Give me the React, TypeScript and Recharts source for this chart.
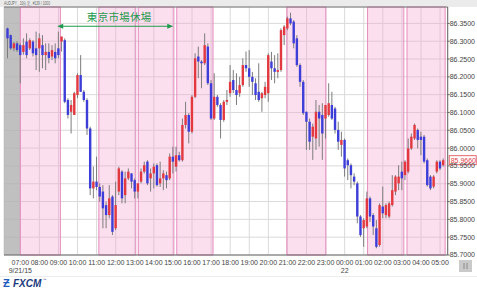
import {
  ComposedChart,
  Bar,
  XAxis,
  YAxis,
  CartesianGrid,
  ReferenceArea,
  ReferenceLine,
} from "recharts";

// AUDJPY 10-minute candles, 06:20 (9/21) .. 05:10 (9/22), one row per bar
const OPENS = [
  86.336, 86.317, 86.28, 86.294, 86.289, 86.27, 86.299, 86.28, 86.299, 86.28, 86.28, 86.289,
  86.261, 86.27, 86.257, 86.27, 86.28, 86.299, 86.303, 86.135, 86.102, 86.093, 86.149, 86.205,
  86.158, 86.135, 86.055, 85.887, 85.906, 85.891, 85.878, 85.84, 85.812, 85.864, 85.775, 85.878,
  85.934, 85.868, 85.915, 85.929, 85.91, 85.878, 85.906, 85.934, 85.962, 85.915, 85.929, 85.952,
  85.901, 85.915, 85.924, 85.915, 85.976, 85.948, 85.98, 85.966, 86.065, 86.093, 86.046, 86.144,
  86.257, 86.243, 86.238, 86.285, 86.182, 86.083, 86.144, 86.121, 86.079, 86.13, 86.154, 86.191,
  86.163, 86.154, 86.177, 86.233, 86.224, 86.2, 86.182, 86.158, 86.14, 86.149, 86.154, 86.243,
  86.224, 86.214, 86.219, 86.317, 86.336, 86.364, 86.355, 86.308, 86.233, 86.186, 86.102, 86.074,
  86.032, 86.027, 86.102, 86.093, 86.083, 86.093, 86.121, 86.111, 86.051, 86.009, 86.023, 85.966,
  85.952, 85.92, 85.901, 85.808, 85.775, 85.78, 85.859, 85.812, 85.775, 85.728, 85.836, 85.812,
  85.808, 85.84, 85.878, 85.901, 85.934, 85.924, 85.934, 85.999, 86.027, 86.051, 86.032, 86.032,
  85.966, 85.92, 85.892, 85.934, 85.962, 85.952,
];
const HIGHS = [
  86.338, 86.319, 86.298, 86.3, 86.294, 86.308, 86.322, 86.308, 86.303, 86.327, 86.322, 86.317,
  86.294, 86.294, 86.289, 86.294, 86.327, 86.313, 86.308, 86.14, 86.135, 86.158, 86.21, 86.261,
  86.163, 86.14, 86.06, 85.948, 85.976, 85.901, 85.896, 85.85, 85.896, 85.868, 85.906, 85.948,
  85.938, 85.934, 85.943, 85.929, 85.915, 85.901, 85.943, 85.962, 85.966, 85.943, 85.957, 85.957,
  85.962, 85.938, 85.934, 85.985, 86.004, 86.004, 85.99, 86.083, 86.13, 86.098, 86.149, 86.266,
  86.285, 86.247, 86.322, 86.294, 86.191, 86.21, 86.149, 86.126, 86.135, 86.163, 86.233, 86.219,
  86.21, 86.2, 86.252, 86.271, 86.275, 86.214, 86.196, 86.238, 86.158, 86.186, 86.266, 86.27,
  86.261, 86.266, 86.336, 86.345, 86.369, 86.38, 86.359, 86.317, 86.238, 86.191, 86.102, 86.083,
  86.069, 86.135, 86.121, 86.126, 86.121, 86.182, 86.158, 86.116, 86.074, 86.046, 86.027, 85.971,
  85.957, 85.929, 85.906, 85.812, 85.803, 85.878, 85.864, 85.817, 85.798, 85.845, 85.892, 85.845,
  85.85, 85.924, 85.924, 85.952, 85.962, 85.966, 86.027, 86.041, 86.069, 86.055, 86.046, 86.037,
  85.971, 85.924, 85.924, 85.966, 85.966, 85.971,
];
const LOWS = [
  86.252, 86.275, 86.272, 86.27, 86.182, 86.262, 86.252, 86.275, 86.257, 86.219, 86.214, 86.224,
  86.219, 86.238, 86.247, 86.238, 86.252, 86.271, 86.126, 86.083, 86.041, 86.093, 86.14, 86.158,
  86.13, 86.037, 85.868, 85.859, 85.882, 85.85, 85.775, 85.775, 85.803, 85.756, 85.77, 85.868,
  85.845, 85.845, 85.91, 85.887, 85.859, 85.859, 85.901, 85.929, 85.896, 85.878, 85.887, 85.892,
  85.891, 85.882, 85.887, 85.91, 85.929, 85.934, 85.962, 85.962, 86.055, 86.013, 86.041, 86.14,
  86.196, 86.168, 86.233, 86.177, 86.079, 86.079, 86.116, 86.027, 86.074, 86.121, 86.144, 86.154,
  86.121, 86.144, 86.172, 86.214, 86.172, 86.149, 86.135, 86.13, 86.102, 86.14, 86.13, 86.191,
  86.182, 86.196, 86.214, 86.289, 86.331, 86.345, 86.28, 86.228, 86.172, 86.093, 85.995, 85.995,
  85.967, 85.995, 86.004, 85.967, 86.027, 86.088, 86.079, 86.041, 85.995, 85.976, 85.92, 85.91,
  85.887, 85.896, 85.789, 85.751, 85.723, 85.775, 85.793, 85.756, 85.719, 85.723, 85.803, 85.803,
  85.803, 85.836, 85.868, 85.882, 85.882, 85.91, 85.929, 85.995, 86.023, 85.999, 85.98, 85.957,
  85.892, 85.882, 85.887, 85.929, 85.938, 85.948,
];
const CLOSES = [
  86.308, 86.28, 86.294, 86.275, 86.261, 86.289, 86.261, 86.303, 86.266, 86.261, 86.308, 86.261,
  86.27, 86.253, 86.275, 86.252, 86.261, 86.313, 86.13, 86.093, 86.121, 86.154, 86.205, 86.158,
  86.135, 86.055, 85.887, 85.906, 85.891, 85.864, 85.831, 85.812, 85.859, 85.765, 85.84, 85.943,
  85.859, 85.915, 85.934, 85.906, 85.878, 85.901, 85.934, 85.952, 85.901, 85.929, 85.948, 85.896,
  85.915, 85.929, 85.91, 85.976, 85.962, 85.98, 85.966, 86.065, 86.093, 86.046, 86.144, 86.252,
  86.243, 86.238, 86.289, 86.182, 86.083, 86.144, 86.121, 86.079, 86.13, 86.135, 86.186, 86.163,
  86.149, 86.177, 86.233, 86.224, 86.2, 86.186, 86.149, 86.135, 86.154, 86.172, 86.261, 86.224,
  86.214, 86.219, 86.331, 86.341, 86.364, 86.35, 86.294, 86.233, 86.186, 86.098, 86.074, 86.018,
  86.06, 86.102, 86.083, 86.041, 86.121, 86.126, 86.083, 86.051, 86.018, 86.023, 85.943, 85.952,
  85.924, 85.906, 85.808, 85.756, 85.798, 85.859, 85.808, 85.78, 85.723, 85.84, 85.817, 85.84,
  85.845, 85.882, 85.92, 85.92, 85.915, 85.962, 85.999, 86.032, 86.065, 86.023, 86.023, 85.962,
  85.896, 85.887, 85.92, 85.962, 85.943, 85.966,
];

// bar index 4 = 07:00, six bars per hour
const HOUR_LABELS = [
  "07:00", "08:00", "09:00", "10:00", "11:00", "12:00", "13:00", "14:00", "15:00", "16:00",
  "17:00", "18:00", "19:00", "20:00", "21:00", "22:00", "23:00", "00:00", "01:00", "02:00",
  "03:00", "04:00", "05:00",
];
const DATE_LABELS: Record<string, string> = { "07:00": "9/21/15", "00:00": "22" };
const Y_TICKS = [
  85.7, 85.75, 85.8, 85.85, 85.9, 85.95, 86.0, 86.05, 86.1, 86.15, 86.2, 86.25, 86.3, 86.35,
];
const X_DOMAIN = [-1.13, 138.4];
const Y_DOMAIN = [85.7, 86.396];

// shaded spans, in bar units
const PRE_OPEN = [-1.13, 4];
const SESSIONS = [
  [4, 16.6],
  [28.7, 40.3],
  [41.1, 52.3],
  [53.2, 64.6],
  [87.8, 100.1],
  [113.2, 124.6],
  [125.6, 137.6],
];
const ARROW_FROM = 15.6;
const ARROW_TO = 52.1;
const ARROW_LEVEL = 86.342;
const LAST_PRICE = 85.966;

const UP = "#e2383f";
const DOWN = "#3d3dd8";
const WICK = "#7c7c7c";
const GREEN = "#1f9a4e";
const FONT = "'Liberation Sans', Arial, sans-serif";

const HOUR_TICKS = HOUR_LABELS.map((_, k) => 4 + 6 * k);

const rows = OPENS.map((open, i) => ({
  i,
  open,
  high: HIGHS[i],
  low: LOWS[i],
  close: CLOSES[i],
}));

function Candle(props: any) {
  const { x, y, width, height, payload } = props;
  if (x == null || y == null) return null;
  const { open, close, high, low } = payload;
  const top = Math.min(y, y + height);
  const h = Math.abs(height);
  const k = high === low ? 0 : h / (high - low);
  const py = (v: number) => top + (high - v) * k;
  const cx = x + width / 2;
  const bodyTop = py(Math.max(open, close));
  const bodyH = Math.max(1, Math.abs(py(open) - py(close)));
  return (
    <g>
      <line x1={cx} x2={cx} y1={top} y2={top + h} stroke={WICK} strokeWidth={1} />
      <rect x={cx - 1.2} y={bodyTop} width={2.4} height={bodyH} fill={close >= open ? UP : DOWN} />
    </g>
  );
}

function HourTick(props: any) {
  const { x, y, payload } = props;
  const label = HOUR_LABELS[HOUR_TICKS.indexOf(payload.value)] ?? "";
  const date = DATE_LABELS[label];
  return (
    <g fontFamily={FONT} fontSize={7} fill="#444">
      <text x={x} y={y + 9.5} textAnchor="middle">
        {label}
      </text>
      {date && (
        <text x={x} y={y + 18.3} textAnchor="middle">
          {date}
        </text>
      )}
    </g>
  );
}

function TokyoArrow(p: any) {
  const left = Math.min(p.x1, p.x2);
  const right = Math.max(p.x1, p.x2);
  const y = p.y1;
  return (
    <g>
      <line x1={left + 4} x2={right - 4} y1={y} y2={y} stroke={GREEN} strokeWidth={1.2} />
      <polygon points={`${left},${y} ${left + 6},${y - 2.6} ${left + 6},${y + 2.6}`} fill={GREEN} />
      <polygon points={`${right},${y} ${right - 6},${y - 2.6} ${right - 6},${y + 2.6}`} fill={GREEN} />
      <text
        x={(left + right) / 2 + 4}
        y={y - 5}
        textAnchor="middle"
        fontSize={10.5}
        letterSpacing={0.3}
        fontFamily="'Noto Sans CJK JP', sans-serif"
        fill={GREEN}
      >
        東京市場休場
      </text>
    </g>
  );
}

function PriceTag(props: any) {
  const vb = props.viewBox || {};
  const x = (vb.x ?? 0) + (vb.width ?? 0) + 1.5;
  const y = vb.y ?? 0;
  return (
    <g>
      <rect x={x} y={y - 4.5} width={27} height={9} fill="#fff" stroke="#e0404a" strokeWidth={0.8} />
      <text x={x + 1.5} y={y + 2.5} fontSize={7} fontFamily={FONT} fill="#e0404a">
        {LAST_PRICE.toFixed(4)}
      </text>
    </g>
  );
}

export default function App() {
  return (
    <div
      style={{
        position: "absolute",
        left: 0,
        top: 0,
        width: 477,
        height: 292,
        background: "#fff",
        overflow: "hidden",
      }}
    >
      <svg width={477} height={7} style={{ position: "absolute", left: 0, top: 0 }}>
        <rect x={0} y={0} width={477} height={7} fill="#ebebeb" />
        <text
          x={4}
          y={4.6}
          fontSize={5}
          fontFamily={FONT}
          fill="#666"
          textLength={46}
          lengthAdjust="spacingAndGlyphs"
        >
          AUDJPY , 10分足 , #139 / 1000
        </text>
      </svg>
      <div style={{ position: "absolute", left: 0, top: 0 }}>
        <ComposedChart
          width={477}
          height={292}
          data={rows}
          margin={{ top: 7, right: 0, bottom: 0, left: 4 }}
        >
          <CartesianGrid stroke="#dadada" strokeWidth={1} />
          <ReferenceArea
            x1={PRE_OPEN[0]}
            x2={PRE_OPEN[1]}
            fill="#b0b0b0"
            fillOpacity={0.8}
            stroke="none"
          />
          {SESSIONS.map(([a, b]) => (
            <ReferenceArea
              key={a}
              x1={a}
              x2={b}
              fill="#f7a3cf"
              fillOpacity={0.35}
              stroke="#e58cbf"
              strokeWidth={1}
            />
          ))}
          <XAxis
            dataKey="i"
            type="number"
            domain={X_DOMAIN}
            allowDataOverflow
            ticks={HOUR_TICKS}
            interval={0}
            height={37}
            tickSize={0}
            tickMargin={0}
            tick={<HourTick />}
            axisLine={{ stroke: "#666" }}
          />
          <YAxis
            orientation="right"
            type="number"
            domain={Y_DOMAIN}
            allowDataOverflow
            ticks={Y_TICKS}
            interval={0}
            width={29.3}
            tickSize={2}
            tickMargin={0}
            tickFormatter={(v: number) => v.toFixed(4)}
            tick={{ fontSize: 7, fill: "#444", fontFamily: FONT }}
            axisLine={{ stroke: "#666" }}
            tickLine={{ stroke: "#666" }}
          />
          <ReferenceLine y={Y_DOMAIN[1]} stroke="#777" strokeWidth={1} />
          <Bar
            dataKey={(d: any) => [d.low, d.high]}
            barSize={3}
            isAnimationActive={false}
            shape={Candle}
          />
          <ReferenceLine
            segment={[
              { x: ARROW_FROM, y: ARROW_LEVEL },
              { x: ARROW_TO, y: ARROW_LEVEL },
            ]}
            shape={TokyoArrow}
          />
          <ReferenceLine
            y={LAST_PRICE}
            stroke="none"
            label={(p: any) => <PriceTag {...p} />}
          />
        </ComposedChart>
      </div>
      <svg width={477} height={20} style={{ position: "absolute", left: 0, top: 272 }}>
        <line x1={0} x2={477} y1={4.5} y2={4.5} stroke="#ececec" />
        <text x={3} y={15} fontSize={11} fontWeight="bold" fontFamily={FONT} fill="#1d5bbf">
          Ƶ
        </text>
        <text
          x={13}
          y={14.5}
          fontSize={10}
          fontWeight="bold"
          fontStyle="italic"
          fontFamily={FONT}
          fill="#1b3a7e"
        >
          FXCM
        </text>
        <text x={43} y={8.5} fontSize={3.5} fontFamily={FONT} fill="#1b3a7e">
          ™
        </text>
      </svg>
      <svg width={16} height={14} style={{ position: "absolute", left: 458, top: 259 }}>
        <rect x={1} y={1} width={13} height={12} fill="#cacaca" />
        <rect x={5.5} y={4} width={1} height={6} fill="#8a8a8a" />
        <rect x={8.5} y={4} width={1} height={6} fill="#8a8a8a" />
      </svg>
    </div>
  );
}
